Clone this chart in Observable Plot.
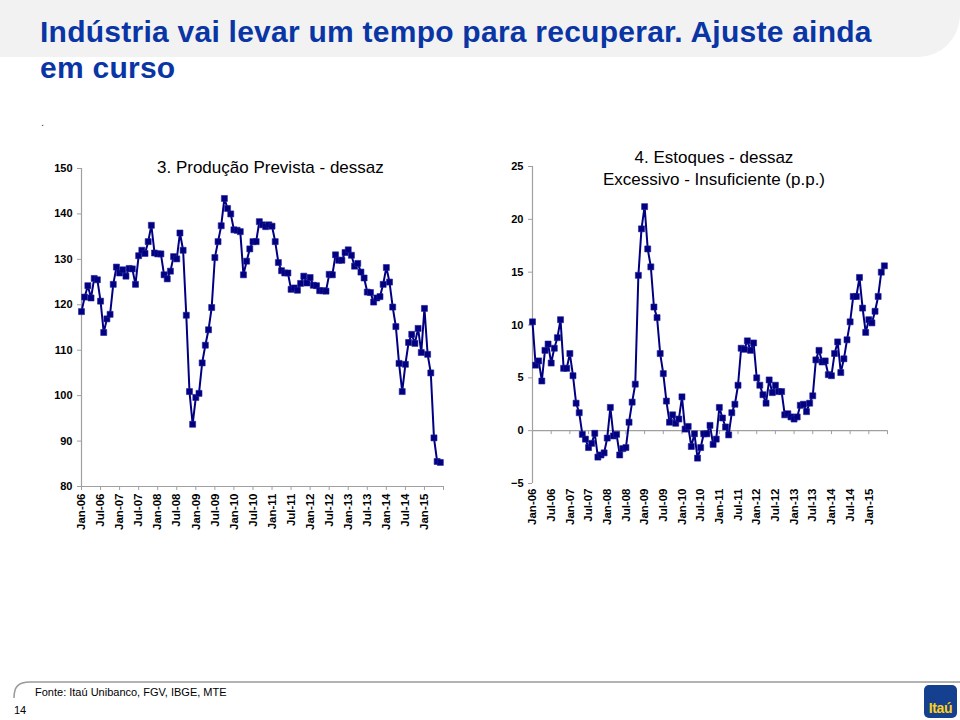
<!DOCTYPE html>
<html>
<head>
<meta charset="utf-8">
<script src="https://cdn.jsdelivr.net/npm/d3@7"></script>
<script src="https://cdn.jsdelivr.net/npm/@observablehq/plot@0.6"></script>
<style>
  html, body { margin: 0; padding: 0; background: #fff; }
  body { width: 960px; height: 720px; position: relative; overflow: hidden; font-family: "Liberation Sans", Arial, sans-serif; }
  .abs { position: absolute; }
  #band { left: 0; top: 0; width: 960px; height: 57px; background: #f2f2f2; border-bottom-right-radius: 42px; }
  #title { left: 40px; top: 14px; font-size: 30px; font-weight: bold; color: #0a35a5; line-height: 36px; white-space: nowrap; letter-spacing: 0.25px; }
  #dot { left: 41px; top: 116px; font-size: 11px; color: #333; }
  .ctitle { font-size: 17px; color: #000; line-height: 22px; white-space: nowrap; }
  #footer { left: 35px; top: 686px; font-size: 11px; color: #000; white-space: nowrap; }
  #page { left: 14px; top: 704px; font-size: 11px; color: #000; }
  #logo { left: 924px; top: 685px; width: 33px; height: 33px; background: #153f8f; border-radius: 5px; }
  #logo span { position: absolute; left: 0; right: 0; bottom: 2px; text-align: center; color: #ffd21a; font-weight: bold; font-size: 14px; letter-spacing: -0.4px; }
</style>
</head>
<body>
<div id="band" class="abs"></div>
<div id="title" class="abs">Indústria vai levar um tempo para recuperar. Ajuste ainda<br>em curso</div>
<div id="dot" class="abs">.</div>
<div id="chartL" class="abs" style="left:0px; top:140px;"></div>
<div id="chartR" class="abs" style="left:480px; top:140px;"></div>
<div class="abs ctitle" style="left:157px; top:157px;">3. Produção Prevista - dessaz</div>
<div class="abs ctitle" style="left:584px; top:147px; width:260px; text-align:center;">4. Estoques - dessaz<br>Excessivo - Insuficiente (p.p.)</div>
<svg class="abs" style="left:0; top:0;" width="960" height="720">
  <path d="M14,698 C14,687 18,682 30,682 L960,682" fill="none" stroke="#9a9a9a" stroke-width="1.5"/>
</svg>
<div id="footer" class="abs">Fonte: Itaú Unibanco, FGV, IBGE, MTE</div>
<div id="page" class="abs">14</div>
<div id="logo" class="abs"><span>Itaú</span></div>
<script>
// Tick labels (every 6 months, starting Jan-06)
const tickLabels = ["Jan-06","Jul-06","Jan-07","Jul-07","Jan-08","Jul-08","Jan-09","Jul-09","Jan-10","Jul-10",
  "Jan-11","Jul-11","Jan-12","Jul-12","Jan-13","Jul-13","Jan-14","Jul-14","Jan-15"];

// 3. Produção Prevista - dessaz (monthly, Jan-06 .. Jun-15)
const producao = [
  118.5,121.7,124.2,121.5,125.8,125.5,120.8,113.9,116.9,117.9,124.5,128.3,
  127.0,127.7,126.3,128.0,127.9,124.5,130.8,132.0,131.3,133.9,137.5,131.4,
  131.2,131.2,126.6,125.7,127.4,130.6,130.1,135.8,132.0,117.7,100.9,93.7,
  99.6,100.5,107.2,111.1,114.5,119.4,130.4,133.9,137.4,143.4,141.2,140.0,
  136.5,136.4,136.1,126.6,129.6,132.3,133.9,133.9,138.3,137.6,137.2,137.6,
  137.3,133.9,129.3,127.5,127.0,127.0,123.4,123.7,123.2,124.7,126.3,124.8,
  126.0,124.3,124.2,123.1,123.1,123.0,126.7,126.6,131.0,129.8,129.8,131.5,
  132.1,130.9,128.5,129.1,127.2,125.9,122.8,122.7,120.6,121.5,121.8,124.5,
  128.2,125.0,119.5,115.2,107.1,100.9,106.9,111.7,113.5,111.5,114.8,109.5,
  119.2,109.1,105.0,90.7,85.5,85.3
];

// 4. Estoques - dessaz, Excessivo - Insuficiente (p.p.) (monthly, Jan-06 .. Jun-15)
const estoques = [
  10.3,6.2,6.6,4.7,7.6,8.2,6.4,7.8,8.8,10.5,5.9,5.9,
  7.3,5.2,2.6,1.7,-0.35,-0.8,-1.6,-1.2,-0.25,-2.5,-2.3,-2.1,
  -0.7,2.2,-0.5,-0.35,-2.3,-1.7,-1.6,0.8,2.7,4.4,14.7,19.1,
  21.2,17.2,15.5,11.7,10.7,7.3,5.4,2.8,0.8,1.5,0.7,1.1,
  3.2,0.15,0.4,-1.5,-0.3,-2.6,-1.6,-0.3,-0.3,0.5,-1.3,-0.8,
  2.2,1.2,0.35,-0.4,1.7,2.5,4.3,7.8,7.7,8.5,7.6,8.3,
  5.0,4.3,3.4,2.6,4.8,3.6,4.3,3.7,3.7,1.5,1.6,1.3,
  1.1,1.3,2.4,2.5,1.8,2.6,3.3,6.7,7.6,6.5,6.6,5.3,
  5.2,7.3,8.4,5.5,6.8,8.6,10.3,12.7,12.7,14.5,11.6,9.3,
  10.5,10.2,11.3,12.7,15.0,15.6
];

const yTicksL = [80, 90, 100, 110, 120, 130, 140, 150];
const yTicksR = [-5, 0, 5, 10, 15, 20, 25];

const navy = "#000080";
const grey = "#a0a0a0";
const monthsPerTick = 6;
const xTicks = d3.range(0, (tickLabels.length + 1) * monthsPerTick, monthsPerTick);
const xFmt = i => tickLabels[i / monthsPerTick] ?? "";
const xDomain = [0, tickLabels.length * monthsPerTick];

const rowsL = producao.map((v, i) => ({i, v}));
const rowsR = estoques.map((v, i) => ({i, v}));

const baseStyle = {fontFamily: "'Liberation Sans', Arial, sans-serif", fontSize: "11px", fontWeight: "bold", color: "#000", background: "transparent", overflow: "visible"};

const left = Plot.plot({
  width: 470, height: 420,
  marginLeft: 81, marginRight: 27, marginTop: 28, marginBottom: 74,
  x: {domain: xDomain},
  y: {domain: [yTicksL[0], yTicksL[yTicksL.length - 1]]},
  style: baseStyle,
  marks: [
    Plot.ruleX([xDomain[0]], {stroke: grey, strokeWidth: 1.2}),
    Plot.ruleY([yTicksL[0]], {stroke: grey, strokeWidth: 1.2}),
    Plot.axisY({ticks: yTicksL, tickSize: 4, tickPadding: 5, stroke: grey, label: null, fontWeight: "bold"}),
    Plot.axisX({ticks: xTicks, tickSize: 4, tickPadding: 3, tickRotate: -90, tickFormat: xFmt, label: null, stroke: grey, fontWeight: "bold", fontSize: 11.5}),
    Plot.line(rowsL, {x: "i", y: "v", stroke: navy, strokeWidth: 2}),
    Plot.dot(rowsL, {x: "i", y: "v", symbol: "square", r: 3.4, fill: navy, stroke: "#22229a", strokeWidth: 0.6})
  ]
});
document.getElementById("chartL").append(left);

const right = Plot.plot({
  width: 480, height: 420,
  marginLeft: 52, marginRight: 73, marginTop: 26, marginBottom: 77,
  x: {domain: xDomain},
  y: {domain: [yTicksR[0], yTicksR[yTicksR.length - 1]]},
  style: baseStyle,
  marks: [
    Plot.ruleX([xDomain[0]], {stroke: grey, strokeWidth: 1.2}),
    Plot.ruleY([0], {stroke: grey, strokeWidth: 1.2}),
    Plot.ruleX(xTicks, {x: d => d, y1: 0, y2: 0, insetBottom: -4, stroke: grey}),
    Plot.axisY({ticks: yTicksR, tickSize: 4, tickPadding: 5, stroke: grey, label: null, fontWeight: "bold"}),
    Plot.axisX({ticks: xTicks, tickSize: 0, tickPadding: 5, tickRotate: -90, tickFormat: xFmt, label: null, fontWeight: "bold", fontSize: 11.5}),
    Plot.line(rowsR, {x: "i", y: "v", stroke: navy, strokeWidth: 2}),
    Plot.dot(rowsR, {x: "i", y: "v", symbol: "square", r: 3.4, fill: navy, stroke: "#22229a", strokeWidth: 0.6})
  ]
});
document.getElementById("chartR").append(right);
</script>
</body>
</html>
